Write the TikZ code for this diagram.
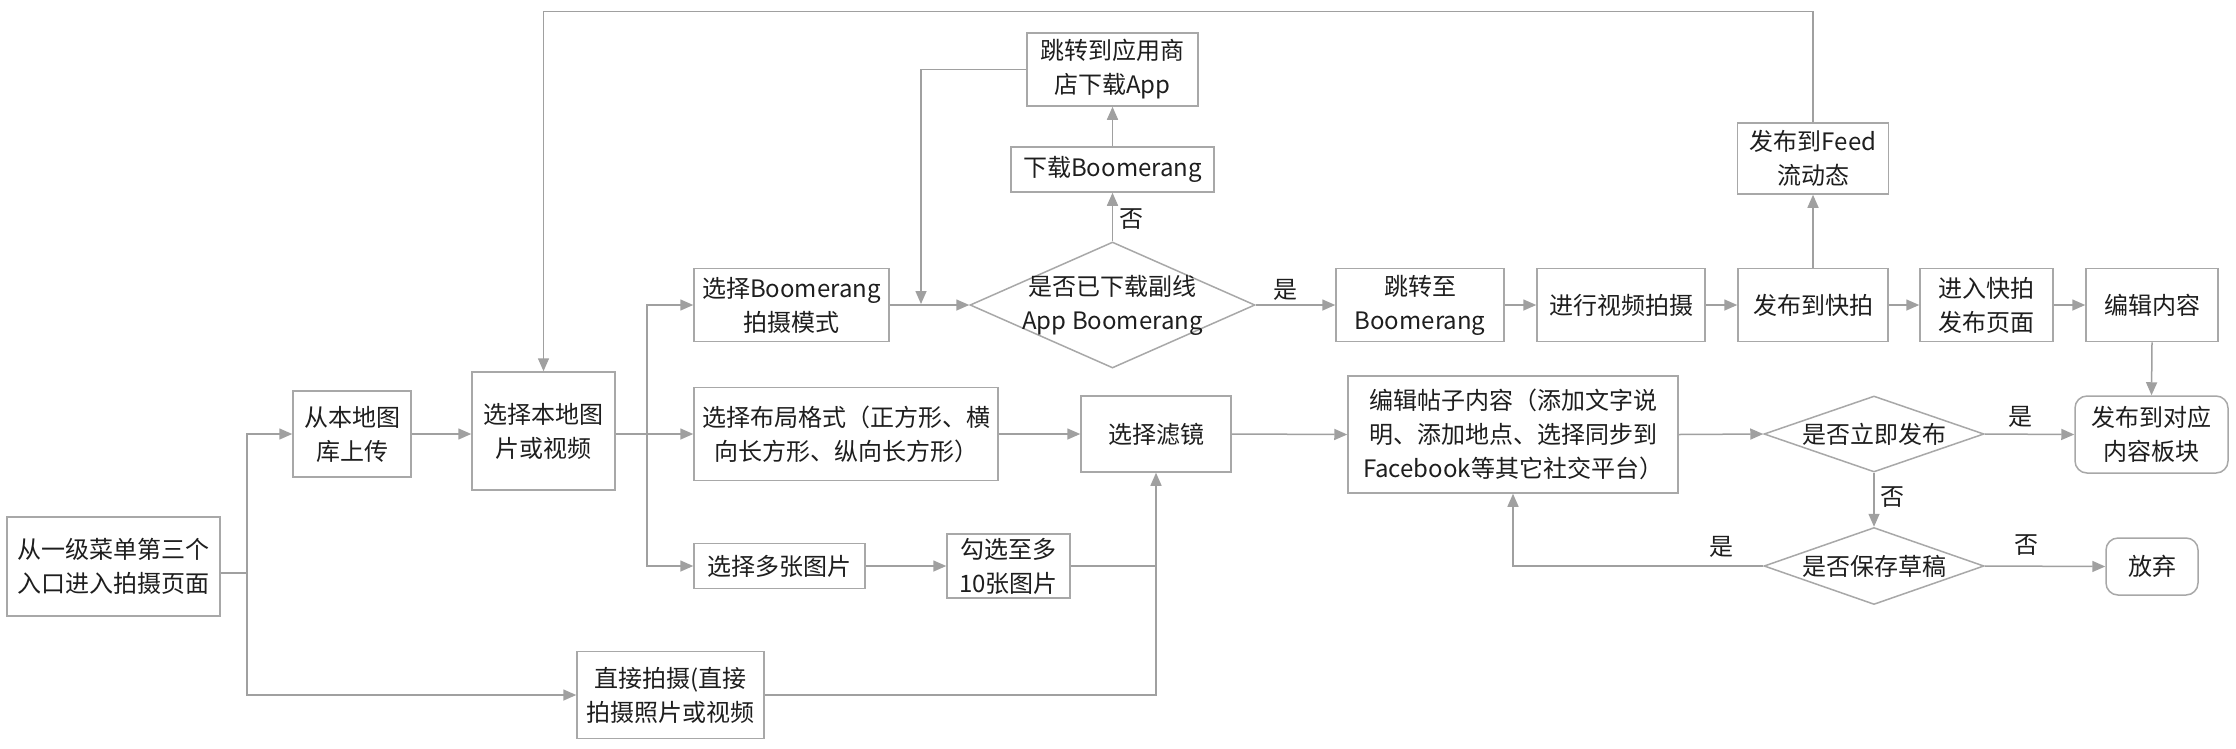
\documentclass[tikz,border=0pt]{standalone}
\usepackage{fontspec}
\setmainfont{Noto Sans CJK SC}
\usetikzlibrary{arrows.meta,shapes.geometric}
\definecolor{lnc}{RGB}{160,160,160}
\definecolor{bdc}{RGB}{168,168,168}
\definecolor{txc}{RGB}{30,30,30}
\begin{document}
\begin{tikzpicture}[x=1pt,y=-1pt,
  box/.style={draw=bdc,line width=1.5pt,fill=white,text=txc,align=center,inner sep=0pt,font=\fontsize{24}{34}\selectfont},
  rbox/.style={box,rounded corners=12pt},
  dia/.style={draw=bdc,line width=1.5pt,diamond,inner sep=0pt,fill=white},
  txt/.style={text=txc,align=center,inner sep=2pt,font=\fontsize{24}{34}\selectfont},
  arr/.style={draw=lnc,line width=1.5pt,-{Triangle[length=13pt,width=11pt]}},
  plain/.style={draw=lnc,line width=1.5pt},
]
\fill[white] (0,0) rectangle (2236,748);
\useasboundingbox (0,0) rectangle (2236,748);

% nodes
\node[box,minimum width=213pt,minimum height=99pt] (start) at (113.5,566.5) {从一级菜单第三个\\入口进入拍摄页面};
\node[box,minimum width=118pt,minimum height=86pt] (local) at (352,434) {从本地图\\库上传};
\node[box,minimum width=143pt,minimum height=118pt] (sellocal) at (543.5,431) {选择本地图\\片或视频};
\node[box,minimum width=195pt,minimum height=73pt] (boom) at (791.5,305) {选择Boomerang\\拍摄模式};
\node[box,minimum width=304pt,minimum height=93pt] (layout) at (846,434) {选择布局格式（正方形、横\\向长方形、纵向长方形）};
\node[box,minimum width=171pt,minimum height=45pt] (multi) at (779.5,566) {选择多张图片};
\node[box,minimum width=123pt,minimum height=64pt] (upto) at (1008.5,566) {勾选至多\\10张图片};
\node[box,minimum width=187pt,minimum height=87pt] (direct) at (670.5,695) {直接拍摄(直接\\拍摄照片或视频};
\node[box,minimum width=150pt,minimum height=76pt] (filter) at (1156,434) {选择滤镜};
\node[dia,minimum width=285pt,minimum height=126pt] (d1) at (1112.5,305) {};
\node[txt] (d1t) at (d1) {是否已下载副线\\App Boomerang};
\node[box,minimum width=203pt,minimum height=45pt] (dl) at (1112.5,169.5) {下载Boomerang};
\node[box,minimum width=171pt,minimum height=73pt] (store) at (1112.5,69.5) {跳转到应用商\\店下载App};
\node[box,minimum width=168pt,minimum height=73pt] (jump) at (1420,305) {跳转至\\Boomerang};
\node[box,minimum width=168pt,minimum height=73pt] (shoot) at (1621,305) {进行视频拍摄};
\node[box,minimum width=150pt,minimum height=73pt] (story) at (1813,305) {发布到快拍};
\node[box,minimum width=133pt,minimum height=73pt] (spage) at (1986.5,305) {进入快拍\\发布页面};
\node[box,minimum width=132pt,minimum height=73pt] (edit) at (2152,305) {编辑内容};
\node[box,minimum width=151pt,minimum height=71pt] (feed) at (1813,158.5) {发布到Feed\\流动态};
\node[box,minimum width=330pt,minimum height=117pt] (post) at (1513,434.5) {编辑帖子内容（添加文字说\\明、添加地点、选择同步到\\Facebook等其它社交平台）};
\node[dia,minimum width=220pt,minimum height=76pt] (d2) at (1874,434) {};
\node[txt] (d2t) at (d2) {是否立即发布};
\node[rbox,minimum width=153pt,minimum height=77pt] (pub) at (2151.5,434.5) {发布到对应\\内容板块};
\node[dia,minimum width=220pt,minimum height=77pt] (d3) at (1874,566) {};
\node[txt] (d3t) at (d3) {是否保存草稿};
\node[rbox,minimum width=92pt,minimum height=57pt] (quit) at (2152,566.5) {放弃};

% junction coordinates
\coordinate (trunk) at (647,434);
\coordinate (sj) at (921,304);
\coordinate (fj) at (filter.south |- upto.east);
\coordinate (sout) at ([yshift=-6.5pt]start.east);

% connectors
\draw[arr] (sout) -- ++(26,0) |- (local.west);
\draw[arr] (sout) -- ++(26,0) |- (direct.west);
\draw[arr] (local.east) -- (local.east -| sellocal.west);
\draw[arr] (sellocal.east |- layout.west) -- (layout.west);
\draw[arr] (trunk) |- (boom.west);
\draw[arr] (trunk) |- (multi.west);
\draw[arr] (boom.east) -- (d1.west);
\draw[arr] (d1.north) -- node[txt,right=4pt,pos=0.45] (lb1) {否} (dl.south);
\draw[arr] (dl.north) -- (store.south);
\draw[arr] (store.west) -| (sj);
\draw[arr] (d1.east) -- node[txt,above=2pt,pos=0.38] (lb2) {是} (jump.west);
\draw[arr] (jump.east) -- (shoot.west);
\draw[arr] (shoot.east) -- (story.west);
\draw[arr] (story.east) -- (spage.west);
\draw[arr] (spage.east) -- (edit.west);
\draw[arr] (story.north) -- (feed.south);
\draw[arr] (feed.north) -- ++(0,-111) -| (sellocal.north);
\draw[arr] (edit.south) -- (pub.north);
\draw[arr] (layout.east) -- (filter.west);
\draw[arr] (multi.east) -- (upto.west);
\draw[arr] (upto.east) -| (filter.south);
\draw[plain] (direct.east) -| (fj);
\draw[arr] (filter.east) -- (post.west);
\draw[arr] (post.east) -- (d2.west);
\draw[arr] (d2.east) -- node[txt,above=4pt,pos=0.4] (lb3) {是} (pub.west);
\draw[arr] (d2.south) -- node[txt,right=4pt,pos=0.45] (lb4) {否} (d3.north);
\draw[arr] (d3.east) -- node[txt,above=8pt,pos=0.35] (lb5) {否} (quit.west);
\draw[arr] (d3.west) -| node[txt,above=6pt,pos=0.084] (lb6) {是} (post.south);
\end{tikzpicture}
\end{document}
